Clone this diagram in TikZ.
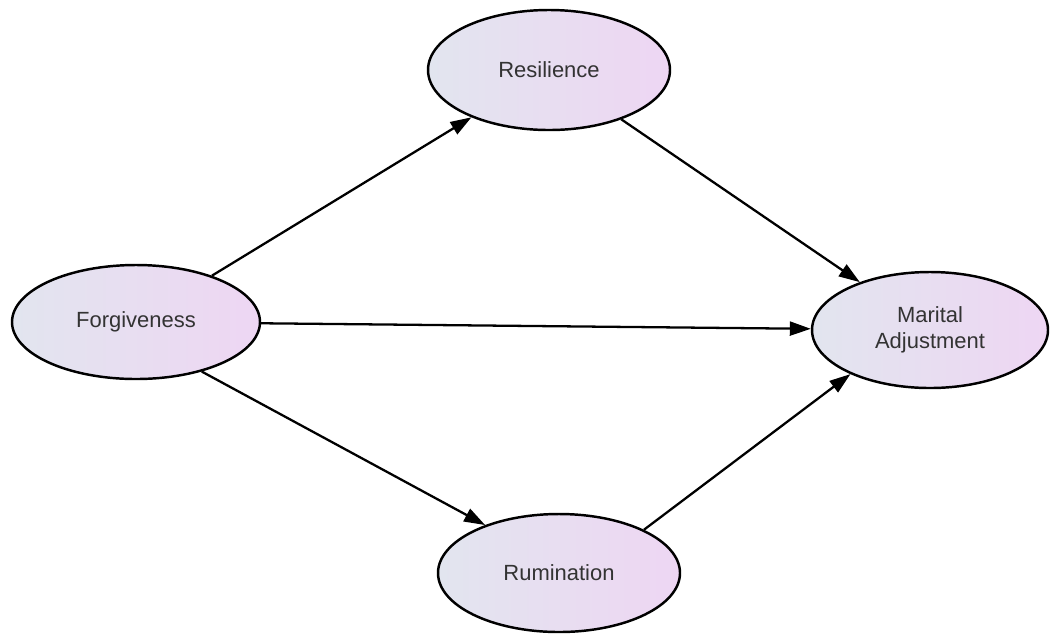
\documentclass[tikz,border=0pt]{standalone}
\usepackage{fontspec}
\setmainfont{Liberation Sans}
\usepackage{tikz}
\usetikzlibrary{shapes.geometric, arrows.meta}
\definecolor{varleft}{HTML}{E2E5EF}
\definecolor{varright}{HTML}{EED6F3}
\definecolor{vartext}{HTML}{333333}
\tikzstyle{var} = [ellipse, draw=black, line width=1.4pt, left color=varleft, right color=varright, text=vartext, align=center, font=\fontsize{12.5}{14.5}\selectfont, inner sep=0pt]
\tikzstyle{arrow} = [line width=1.3pt, -{Triangle[length=0.42cm,width=0.28cm]}]

\begin{document}
\begin{tikzpicture}
	\useasboundingbox (0,0) rectangle (21.02,-12.66);
	\node (forg) [var, minimum width=4.96cm, minimum height=2.28cm] at (2.72,-6.44) {Forgiveness};
	\node (resil) [var, minimum width=4.84cm, minimum height=2.40cm] at (10.98,-1.40) {Resilience};
	\node (marit) [var, minimum width=4.72cm, minimum height=2.32cm] at (18.60,-6.60) {Marital\\Adjustment};
	\node (rumin) [var, minimum width=4.84cm, minimum height=2.36cm] at (11.18,-11.46) {Rumination};
	\draw [arrow] (forg) -- (resil);
	\draw [arrow] (forg) -- (marit);
	\draw [arrow] (forg.-37) -- (rumin.147);
	\draw [arrow] (resil) -- (marit);
	\draw [arrow] (rumin.27) -- (marit.209);
\end{tikzpicture}
\end{document}
